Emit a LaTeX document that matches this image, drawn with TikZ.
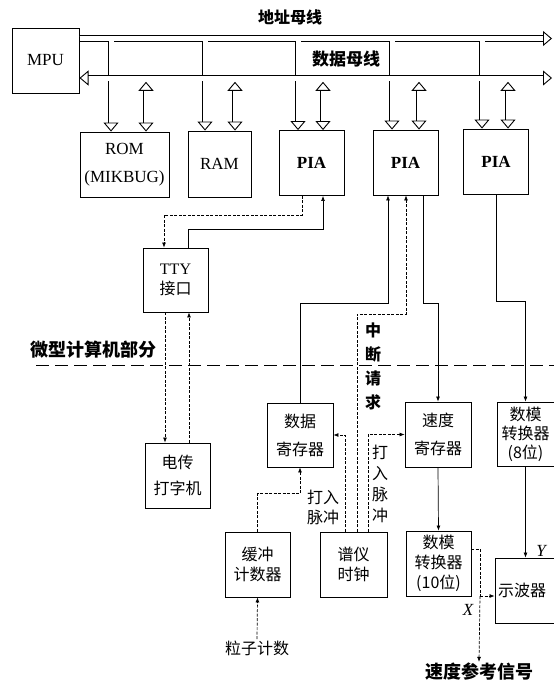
\documentclass[tikz,border=0pt]{standalone}
\usepackage{fontspec}
\setmainfont{Liberation Serif}
\newfontfamily\cjk{Noto Sans CJK SC}
\usetikzlibrary{arrows.meta,positioning,calc}

\begin{document}
\begin{tikzpicture}[x=1pt,y=-1pt,line width=0.8pt,
  blk/.style={draw,line width=0.9pt,inner sep=1pt,align=center,font=\cjk\fontsize{16}{20}\selectfont},
  lat/.style={blk,font=\fontsize{17}{20}\selectfont},
  pia/.style={lat,font=\bfseries\fontsize{17}{20}\selectfont,minimum width=65,minimum height=65},
  lab/.style={inner sep=1pt,align=center,font=\cjk\bfseries\fontsize{16}{20}\selectfont},
  biglab/.style={lab,font=\cjk\bfseries\fontsize{18}{20}\selectfont},
  bus/.style={double,double distance=5pt,line width=0.9pt},
  bustip/.tip={Triangle[open,length=9pt,width=15pt]},
  sig/.style={line width=0.7pt,-{Latex[length=5pt,width=4pt]}},
  dsig/.style={sig,dash pattern=on 3pt off 1.5pt},
  part/.style={line width=0.8pt,dash pattern=on 13pt off 6pt}]
  \useasboundingbox (0,0) rectangle (554,680);

  % microcomputer
  \node[lat,minimum width=67,minimum height=65] (mpu) at (45.5,60.5) {MPU};
  \node[lat,minimum width=89,minimum height=65] (rom) at (124.5,164.5) {ROM\\[8pt](MIKBUG)};
  \node[lat,minimum width=63,minimum height=66] (ram) at (219.5,164) {RAM};
  \node[pia] (pia1) at (311.5,163) {PIA};
  \node[pia] (pia2) at (405.5,162.5) {PIA};
  \node[pia] (pia3) at (496,161.5) {PIA};
  \node[blk,minimum width=65,minimum height=64] (tty) at (175.5,280) {{\rmfamily TTY}\\接口};

  \node[lab] (abustxt) at (290,17) {地址母线};
  \node[lab,font=\cjk\bfseries\fontsize{17}{20}\selectfont] (dbustxt) at (346,59) {数据母线};

  % buses
  \coordinate (abus) at (79.5,38.5);
  \coordinate (aend) at (552,38.5);
  \coordinate (dbus) at (79.5,78);
  \coordinate (dend) at (552,78);
  \coordinate (dbot) at (0,81.8);
  \draw[bus,-bustip] (abus) -- (aend);
  \foreach \n/\a in {rom/-13.5,ram/-14.5,pia1/-13.5,pia2/-13.5,pia3/-14}
    \draw[bus,-bustip] ($(\n.north |- abus)+(\a,0)$) -- ($(\n.north)+(\a,0)$);
  \draw[white,line width=4.8pt,shorten >=11pt] (abus) -- (aend);
  \draw[bus,bustip-bustip] (dbus) -- (dend);
  \foreach \n/\d in {rom/21.5,ram/15.5,pia1/11.5,pia2/13.5,pia3/12}
    \draw[bus,bustip-bustip] ($(\n.north |- dbot)+(\d,0)$) -- ($(\n.north)+(\d,0)$);

  % peripherals
  \node[biglab] (mctxt) at (93,350) {微型计算机部分};
  \draw[part] (36,365) -- (554,365);
  \node[blk,minimum width=65,minimum height=65] (tp) at (177.5,475.5) {电传\\[6pt]打字机};
  \node[blk,minimum width=66,minimum height=64] (dreg) at (300,435) {数据\\[8pt]寄存器};
  \node[blk,minimum width=66,minimum height=65] (vreg) at (438,434.5) {速度\\[8pt]寄存器};
  \node[blk,minimum width=57,minimum height=64] (dac8) at (525.5,434) {数模\\[-1pt]转换器\\[-1pt](8位)};
  \node[blk,minimum width=65,minimum height=65] (buf) at (257.5,564.5) {缓冲\\计数器};
  \node[blk,minimum width=67,minimum height=65] (clk) at (353.5,564.5) {谱仪\\时钟};
  \node[blk,minimum width=65,minimum height=65] (dac10) at (438.5,563.5) {数模\\转换器\\(10位)};
  \node[blk,minimum height=65,text width=84pt,align=left,inner xsep=3pt] (osc) at (540,590.5) {示波器};

  \node[lab,font=\cjk\bfseries\fontsize{16}{24}\selectfont] (irq) at (373,366) {中\\断\\请\\求};
  \node[lab,font=\cjk\fontsize{16}{21}\selectfont] (strobea) at (380,484) {打\\入\\脉\\冲};
  \node[lab,font=\cjk\fontsize{16}{20}\selectfont] (strobeb) at (323,507) {打入\\脉冲};
  \node[lab,font=\itshape\fontsize{17}{20}\selectfont] (xlab) at (468,610) {X};
  \node[lab,font=\itshape\fontsize{17}{20}\selectfont] (ylab) at (541,551) {Y};
  \node[biglab] (vref) at (479,672) {速度参考信号};
  \node[lab,font=\cjk\fontsize{16}{20}\selectfont] (count) at (257,648) {粒子计数};
  \coordinate (xsplit) at (480,596);

  % signals
  \draw[dsig] ($(pia1.south)+(-9.5,0)$) |- (164,215) -- ($(tty.north)+(-11.5,0)$);
  \draw[sig] ($(tty.north)+(12.5,0)$) |- (323,229) -- ($(pia1.south)+(11.5,0)$);
  \draw[dsig] ($(tty.south)+(-10.5,0)$) -- ($(tty.south |- tp.north)+(-10.5,0)$);
  \draw[dsig] ($(tty.south |- tp.north)+(13.5,0)$) -- ($(tty.south)+(13.5,0)$);
  \draw[sig] (dreg.north) |- (388,303) -- ($(pia2.south)+(-17.5,0)$);
  \draw[dsig] ($(clk.north)+(3.5,0)$) |- (406,314) -- ($(pia2.south)+(0.5,0)$);
  \draw[sig] ($(pia2.south)+(17.5,0)$) |- (438,303) -- (vreg.north);
  \draw[sig] (pia3.south) -- ++(0,107) -| (dac8.north);
  \draw[sig] (dac8.south) -- (dac8.south |- osc.north);
  \draw[sig] (vreg.south) -- (dac10.north);
  \draw[dsig] ($(clk.north)+(-8.5,0)$) |- (dreg.east);
  \draw[dsig] ($(clk.north)+(14.5,0)$) |- (vreg.west);
  \draw[dsig] (buf.north) -- ++(0,-38) -| (dreg.south);
  \draw[dsig] (count.north) -- (buf.south);
  \draw[dsig,-] ([yshift=14.5pt]dac10.east) -| (xsplit);
  \draw[dsig] (xsplit) -- (xsplit -| osc.west);
  \draw[dsig] (xsplit) -- (vref.north);
\end{tikzpicture}
\end{document}
